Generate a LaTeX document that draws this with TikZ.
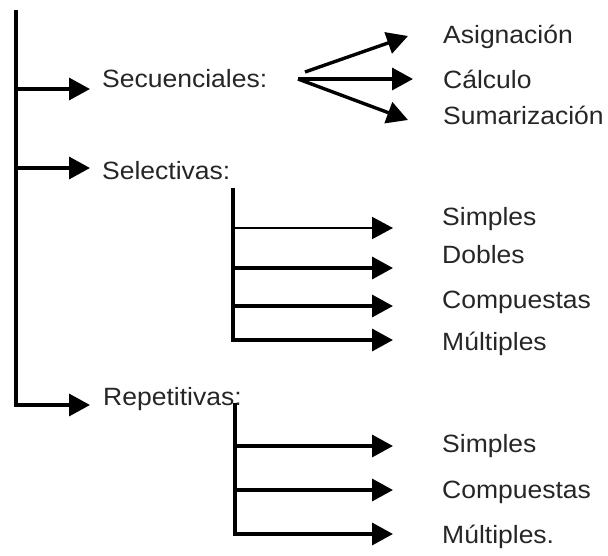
\documentclass[tikz,border=0pt]{standalone}
\usepackage{fontspec}
\setmainfont{Liberation Sans}[FakeStretch=1.06]
\usetikzlibrary{arrows.meta}
\begin{document}
\begin{tikzpicture}[x=1pt,y=-1pt,
  lbl/.style={anchor=base west, inner sep=0pt, font=\fontsize{25}{29}\selectfont, text=black!85},
  arr/.style={line width=3.4pt, line join=miter, -{Triangle[length=21pt,width=22pt]}},
  thinarr/.style={line width=2pt, -{Triangle[length=21pt,width=22pt]}}]
\useasboundingbox (0,0) rectangle (608,555);
% labels
\node[lbl] (sec) at (102,87) {Secuenciales:};
\node[lbl] (sel) at (102,179) {Selectivas:};
\node[lbl] (rep) at (103,405) {Repetitivas:};
\node[lbl] (asi) at (443,43) {Asignación};
\node[lbl] (cal) at (443,88) {Cálculo};
\node[lbl] (sum) at (443,124) {Sumarización};
\node[lbl] (s1) at (442,225) {Simples};
\node[lbl] (d1) at (442,263) {Dobles};
\node[lbl] (c1) at (442,308) {Compuestas};
\node[lbl] (m1) at (442,350) {Múltiples};
\node[lbl] (s2) at (442,452) {Simples};
\node[lbl] (c2) at (442,498) {Compuestas};
\node[lbl] (m2) at (442,543) {Múltiples.};
% coordinates
\coordinate (top) at (16,10);
\coordinate (j1) at (16,89);
\coordinate (t1) at (90,89);
\coordinate (j2) at (16,168);
\coordinate (t2) at (90,168);
\coordinate (t3) at (90,405);
\coordinate (fa) at (305,72);
\coordinate (fo) at (298,79);
\coordinate (ta) at (408,36);
\coordinate (tc) at (413,79);
\coordinate (ts) at (408,120);
\coordinate (a0) at (233,188);
\coordinate (a1) at (233,228);
\coordinate (a2) at (233,268);
\coordinate (a3) at (233,306);
\coordinate (ta1) at (393,228);
\coordinate (ta2) at (393,268);
\coordinate (ta3) at (393,306);
\coordinate (ta4) at (393,340);
\coordinate (b0) at (235,403);
\coordinate (b1) at (235,446);
\coordinate (b2) at (235,490);
\coordinate (tb1) at (393,446);
\coordinate (tb2) at (393,490);
\coordinate (tb3) at (393,534);
% main tree
\draw[arr] (top) |- (t3);
\draw[arr] (j1) -- (t1);
\draw[arr] (j2) -- (t2);
% fan
\draw[arr] (fa) -- (ta);
\draw[arr] (fo) -- (tc);
\draw[arr] (fo) -- (ts);
% selectivas subtree
\draw[arr] (a0) |- (ta4);
\draw[thinarr] (a1) -- (ta1);
\draw[arr] (a2) -- (ta2);
\draw[arr] (a3) -- (ta3);
% repetitivas subtree
\draw[arr] (b0) |- (tb3);
\draw[arr] (b1) -- (tb1);
\draw[arr] (b2) -- (tb2);
\end{tikzpicture}
\end{document}
